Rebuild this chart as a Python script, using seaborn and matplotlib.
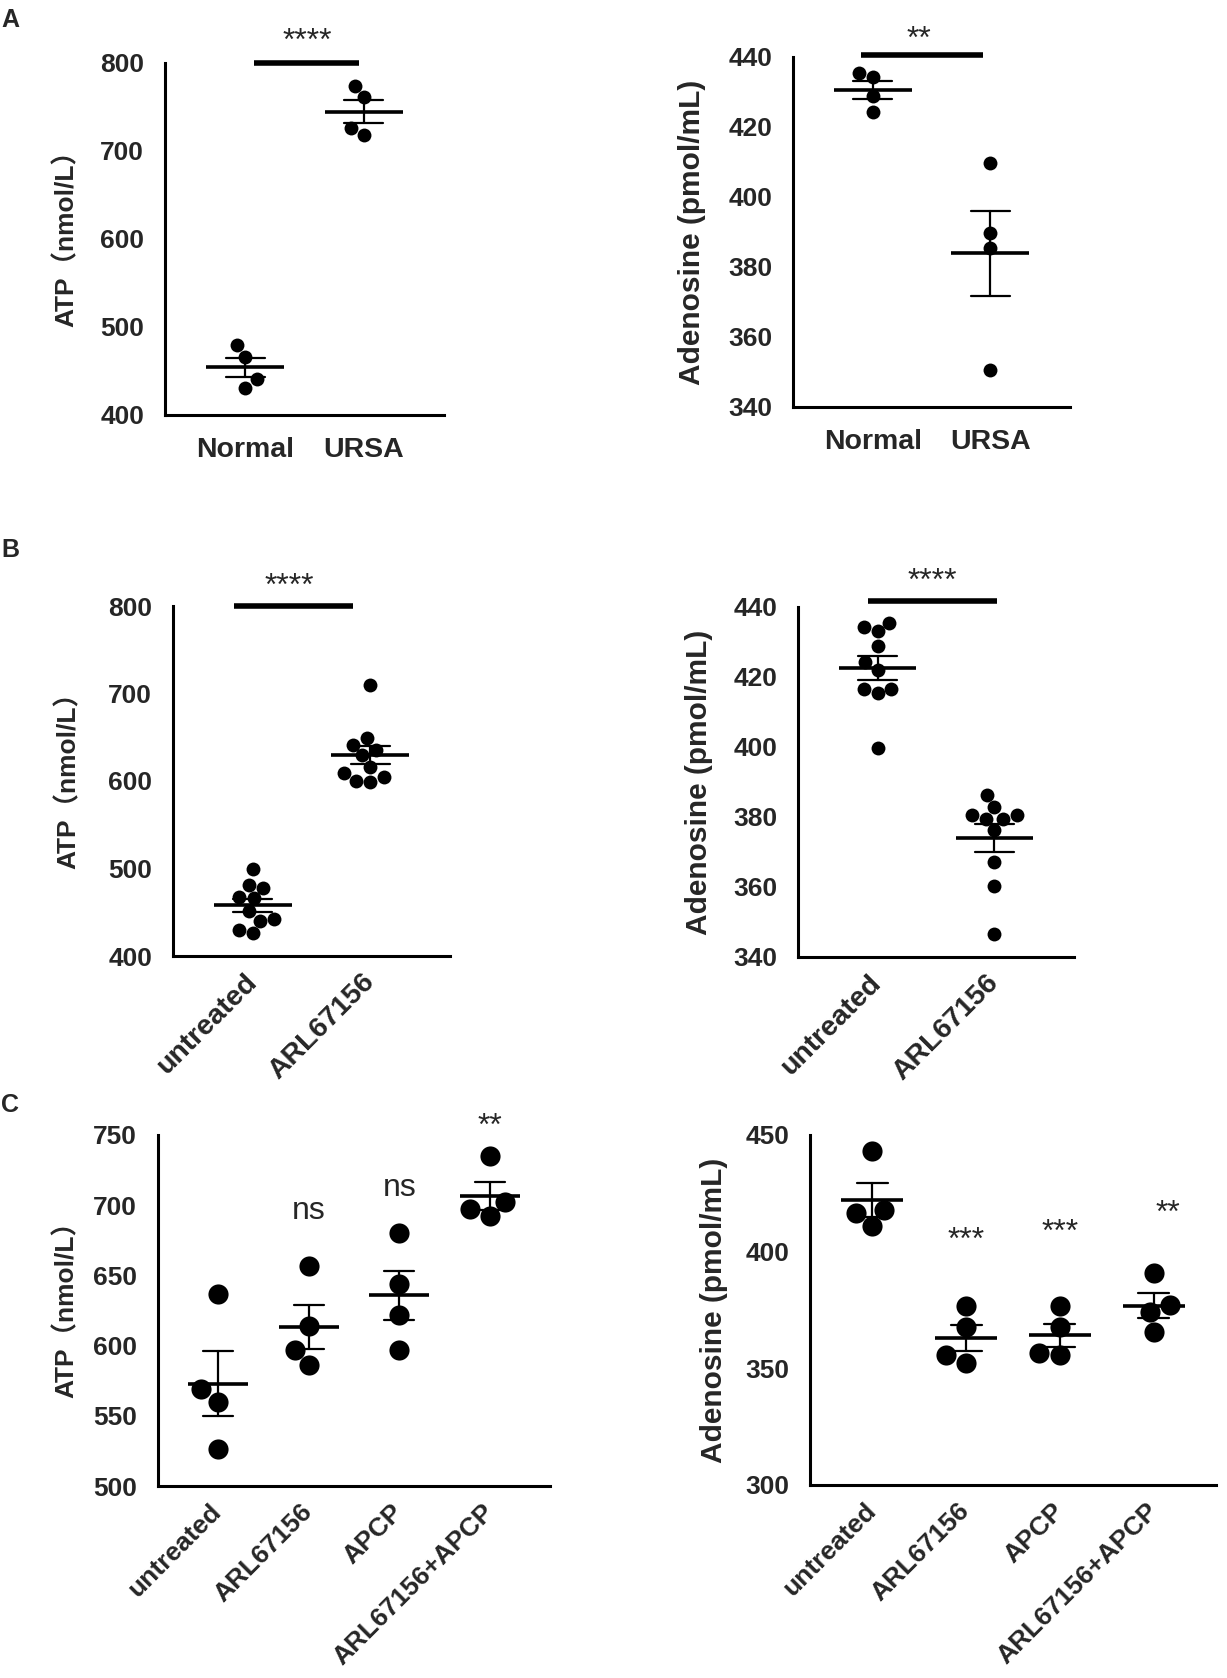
import numpy as np
import pandas as pd
import matplotlib
matplotlib.use("Agg")
import matplotlib.pyplot as plt
import seaborn as sns

# values (mean line / SEM are computed from these)
groups_a = ["Normal", "URSA"]
atp_a_normal = [479, 466, 441, 431]
atp_a_ursa = [774, 761, 726, 718]
ado_a_normal = [435.4, 434.3, 428.8, 424.2]
ado_a_ursa = [409.7, 389.7, 385.4, 350.7]

groups_b = ["untreated", "ARL67156"]
atp_b_untreated = [499, 481, 478, 467, 466, 451, 442, 440, 430, 426]
atp_b_arl = [709.5, 648.6, 641.7, 636, 629.5, 616.2, 609.3, 604.7, 600, 599]
ado_b_untreated = [435.5, 434.2, 433.1, 428.9, 424.2, 422.1, 416.6, 416.6, 415.3, 399.7]
ado_b_arl = [386.3, 382.9, 380.6, 380.6, 379.5, 379.5, 376.2, 367.1, 360.4, 346.5]

groups_c = ["untreated", "ARL67156", "APCP", "ARL67156+APCP"]
atp_c_untreated = [637, 569, 560, 526]
atp_c_arl = [657, 614, 597, 586]
atp_c_apcp = [680, 644, 622, 597]
atp_c_combo = [735, 702.5, 697, 692]
ado_c_untreated = [443.2, 418, 416.6, 410.9]
ado_c_arl = [376.6, 367.6, 355.5, 352.3]
ado_c_apcp = [376.6, 367.6, 356.5, 355.8]
ado_c_combo = [391, 377, 374, 365.5]

atp_label = "ATP（nmol/L）"
ado_label = "Adenosine (pmol/mL)"

W, H = 1227, 1678

sns.set_style("white")
plt.rcParams["font.family"] = ["Liberation Sans", "Noto Sans CJK SC", "DejaVu Sans"]
plt.rcParams["font.weight"] = "bold"


def rect(x0, x1, y0, y1):
    """pixel box -> figure fraction rect"""
    return [x0 / W, 1 - y1 / H, (x1 - x0) / W, (y1 - y0) / H]


def make_df(groups, values):
    return pd.DataFrame({
        "group": np.repeat(groups, [len(v) for v in values]),
        "value": np.concatenate(values),
    })


def draw_panel(ax, groups, values, ylim, yticks, ylabel, label_px, spine_px, width_px,
               dot_size=10, rotate=False, label_size=21.5, label_y=0.5, xlab_size=20.5):
    df = make_df(groups, values)
    n = len(groups)
    sns.swarmplot(data=df, x="group", y="value", order=groups, color="black",
                  size=dot_size, ax=ax, zorder=2)
    sns.pointplot(data=df, x="group", y="value", order=groups, errorbar="se",
                  capsize=0.33, linestyle="none", marker="", color="black",
                  err_kws={"linewidth": 1.6, "zorder": 4}, ax=ax)
    means = df.groupby("group", sort=False)["value"].mean().reindex(groups).values
    xs = np.arange(n)
    ax.hlines(means, xs - 0.33, xs + 0.33, color="black", lw=2.6, zorder=5)

    m = 0.68 if n == 2 else 0.66
    ax.set_xlim(-m, n - 1 + m)
    ax.set_ylim(*ylim)
    ax.set_yticks(yticks)
    ax.set_xticks(xs)
    if rotate:
        ax.set_xticklabels(groups, rotation=45, ha="right", rotation_mode="anchor", va="center")
    else:
        ax.set_xticklabels(groups)
    ax.set_xlabel("")
    ax.set_ylabel(ylabel, fontsize=label_size, fontweight="bold")
    ax.yaxis.set_label_coords((label_px - spine_px) / width_px, label_y)
    sns.despine(ax=ax)
    for s in ["left", "bottom"]:
        ax.spines[s].set_linewidth(2.2)
        ax.spines[s].set_color("black")
    ax.tick_params(axis="both", width=2.2, length=11, labelsize=19, pad=4, color="black")
    ax.tick_params(axis="x", labelsize=xlab_size, pad=5 if rotate else 5)


def sig_bar(ax, x0, x1, y):
    ax.plot([x0, x1], [y, y], color="black", lw=4, solid_capstyle="butt", clip_on=False)


def sig_text(ax, x, y, txt, fs=23):
    # y is where the glyphs should be centred
    off = 0.56 * fs if "*" in txt else 0.27 * fs
    ax.annotate(txt, (x, y), xytext=(0, -off), textcoords="offset points",
                ha="center", va="baseline", fontsize=fs, fontweight="normal",
                annotation_clip=False)


fig = plt.figure(figsize=(W / 100, H / 100), dpi=100)

# panel A
ax1 = fig.add_axes(rect(165, 444, 63, 415))
draw_panel(ax1, groups_a, [atp_a_normal, atp_a_ursa], (400, 800), [400, 500, 600, 700, 800],
           atp_label, 79, 165, 279, label_size=19, label_y=0.52)
sig_bar(ax1, 0.07, 0.96, 800)
sig_text(ax1, 0.52, 835, "****")

ax2 = fig.add_axes(rect(793, 1070, 57, 407))
draw_panel(ax2, groups_a, [ado_a_normal, ado_a_ursa], (340, 440), [340, 360, 380, 400, 420, 440],
           ado_label, 706, 793, 277)
sig_bar(ax2, -0.1, 0.94, 440.7)
sig_text(ax2, 0.39, 447.8, "**")

# panel B
ax3 = fig.add_axes(rect(173, 450, 606, 956))
draw_panel(ax3, groups_b, [atp_b_untreated, atp_b_arl], (400, 800), [400, 500, 600, 700, 800],
           atp_label, 81, 173, 277, rotate=True, label_size=19, label_y=0.52)
sig_bar(ax3, -0.16, 0.85, 800)
sig_text(ax3, 0.31, 833, "****")

ax4 = fig.add_axes(rect(798, 1074, 607, 957))
draw_panel(ax4, groups_b, [ado_b_untreated, ado_b_arl], (340, 440), [340, 360, 380, 400, 420, 440],
           ado_label, 713, 798, 276, rotate=True)
sig_bar(ax4, -0.08, 1.02, 441.7)
sig_text(ax4, 0.47, 449.9, "****")

# panel C
ax5 = fig.add_axes(rect(158, 550, 1135, 1486))
draw_panel(ax5, groups_c, [atp_c_untreated, atp_c_arl, atp_c_apcp, atp_c_combo], (500, 750),
           [500, 550, 600, 650, 700, 750], atp_label, 79, 158, 392, dot_size=14.5,
           rotate=True, label_size=19, label_y=0.52, xlab_size=19)
sig_text(ax5, 1, 696.6, "ns", fs=23)
sig_text(ax5, 2, 713, "ns", fs=23)
sig_text(ax5, 3, 762.8, "**")

ax6 = fig.add_axes(rect(810, 1216, 1135, 1485))
draw_panel(ax6, groups_c, [ado_c_untreated, ado_c_arl, ado_c_apcp, ado_c_combo], (300, 450),
           [300, 350, 400, 450], ado_label, 728, 810, 406, dot_size=14.5, rotate=True,
           xlab_size=19)
sig_text(ax6, 1, 408.8, "***")
sig_text(ax6, 2, 412.4, "***")
sig_text(ax6, 3.15, 420.5, "**")

# panel letters
for letter, ytop in [("A", 8), ("B", 538), ("C", 1093)]:
    fig.text(1 / W, 1 - ytop / H, letter, fontsize=18, fontweight="bold", va="top", ha="left")

fig.savefig("out.png", dpi=100)
